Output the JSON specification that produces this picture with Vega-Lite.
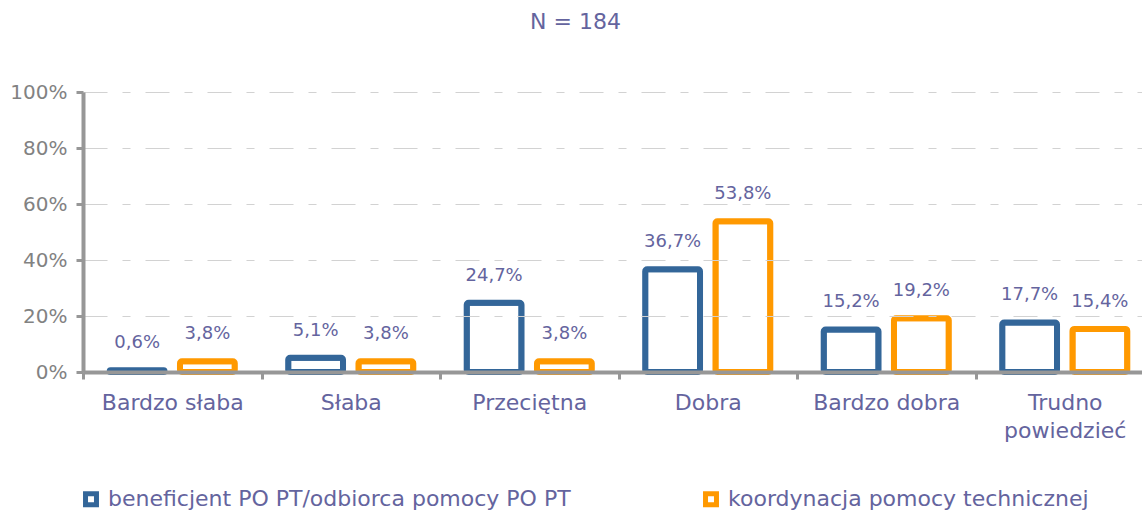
{
  "$schema": "https://vega.github.io/schema/vega-lite/v6.json",
  "autosize": {"type": "none"},
  "padding": {"left": 83, "top": 92, "right": 0, "bottom": 139},
  "width": 1071,
  "height": 280,
  "background": "white",
  "title": {
    "text": "N = 184",
    "anchor": "middle",
    "dx": -43,
    "offset": 48,
    "fontSize": 22,
    "font": "DejaVu Sans",
    "fontWeight": "normal",
    "color": "#64649E"
  },
  "data": {
    "values": [
      {"kategoria": "Bardzo słaba", "seria": "beneficjent PO PT/odbiorca pomocy PO PT", "wartosc": 0.006},
      {"kategoria": "Bardzo słaba", "seria": "koordynacja pomocy technicznej", "wartosc": 0.038},
      {"kategoria": "Słaba", "seria": "beneficjent PO PT/odbiorca pomocy PO PT", "wartosc": 0.051},
      {"kategoria": "Słaba", "seria": "koordynacja pomocy technicznej", "wartosc": 0.038},
      {"kategoria": "Przeciętna", "seria": "beneficjent PO PT/odbiorca pomocy PO PT", "wartosc": 0.247},
      {"kategoria": "Przeciętna", "seria": "koordynacja pomocy technicznej", "wartosc": 0.038},
      {"kategoria": "Dobra", "seria": "beneficjent PO PT/odbiorca pomocy PO PT", "wartosc": 0.367},
      {"kategoria": "Dobra", "seria": "koordynacja pomocy technicznej", "wartosc": 0.538},
      {"kategoria": "Bardzo dobra", "seria": "beneficjent PO PT/odbiorca pomocy PO PT", "wartosc": 0.152},
      {"kategoria": "Bardzo dobra", "seria": "koordynacja pomocy technicznej", "wartosc": 0.192},
      {"kategoria": "Trudno powiedzieć", "seria": "beneficjent PO PT/odbiorca pomocy PO PT", "wartosc": 0.177},
      {"kategoria": "Trudno powiedzieć", "seria": "koordynacja pomocy technicznej", "wartosc": 0.154}
    ]
  },
  "encoding": {
    "x": {
      "field": "kategoria",
      "type": "nominal",
      "sort": null,
      "scale": {"paddingInner": 0, "paddingOuter": 0},
      "axis": {
        "title": null,
        "labelAngle": 0,
        "labelFont": "DejaVu Sans",
        "labelFontSize": 22,
        "labelColor": "#64649E",
        "labelPadding": 13,
        "labelLineHeight": 28,
        "labelExpr": "datum.value == 'Trudno powiedzieć' ? ['Trudno', 'powiedzieć'] : datum.value",
        "domainColor": "#979797",
        "domainWidth": 4,
        "tickColor": "#979797",
        "tickWidth": 3,
        "tickSize": 7,
        "tickBand": "extent",
        "zindex": 1
      }
    },
    "xOffset": {
      "field": "seria",
      "type": "nominal",
      "scale": {"paddingInner": 0.22, "paddingOuter": 0.38}
    },
    "y": {
      "field": "wartosc",
      "type": "quantitative",
      "scale": {"domain": [0, 1]},
      "axis": {
        "title": null,
        "format": ".0%",
        "values": [0, 0.2, 0.4, 0.6, 0.8, 1],
        "labelFont": "DejaVu Sans",
        "labelFontSize": 20,
        "labelColor": "#828282",
        "labelPadding": 9,
        "domainColor": "#979797",
        "domainWidth": 4,
        "tickColor": "#979797",
        "tickWidth": 3,
        "tickSize": 7,
        "grid": true,
        "gridColor": "#d2d2d2",
        "gridWidth": 1.2,
        "gridDash": [24, 15, 8, 15],
        "zindex": 1
      }
    }
  },
  "layer": [
    {
      "mark": {"type": "bar", "fill": "white", "strokeWidth": 6, "cornerRadius": 2},
      "encoding": {
        "stroke": {
          "field": "seria",
          "type": "nominal",
          "scale": {
            "domain": ["beneficjent PO PT/odbiorca pomocy PO PT", "koordynacja pomocy technicznej"],
            "range": ["#336699", "#FF9900"]
          },
          "legend": {
            "title": null,
            "orient": "none",
            "legendX": -3,
            "legendY": 396,
            "direction": "horizontal",
            "columns": 2,
            "columnPadding": 124,
            "symbolType": "square",
            "symbolSize": 120,
            "symbolStrokeWidth": 5,
            "symbolFillColor": "white",
            "symbolOffset": 0,
            "labelOffset": 6,
            "labelFont": "DejaVu Sans",
            "labelFontSize": 22,
            "labelColor": "#64649E",
            "labelLimit": 700
          }
        }
      }
    },
    {
      "mark": {
        "type": "text",
        "baseline": "bottom",
        "dy": -18,
        "font": "DejaVu Sans",
        "fontSize": 18,
        "color": "#64649E"
      },
      "encoding": {
        "text": {"field": "wartosc", "type": "quantitative", "format": ".1%"}
      }
    }
  ],
  "config": {
    "view": {"stroke": null},
    "locale": {
      "number": {"decimal": ",", "thousands": " ", "grouping": [3], "currency": ["", " zł"]}
    }
  }
}
